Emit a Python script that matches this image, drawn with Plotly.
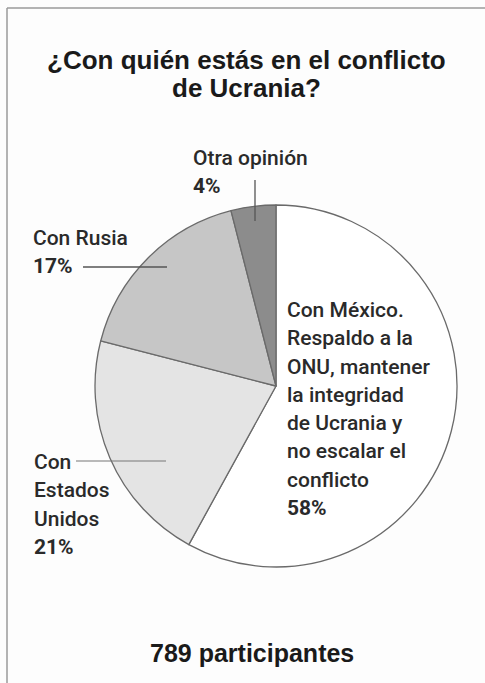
import plotly.graph_objects as go

# ---- data ----
categories = [
    "Con México. Respaldo a la ONU, mantener la integridad de Ucrania y no escalar el conflicto",
    "Con Estados Unidos",
    "Con Rusia",
    "Otra opinión",
]
values = [58, 21, 17, 4]
slice_colors = ["#ffffff", "#e4e4e4", "#c6c6c6", "#8c8c8c"]

title_lines = ["¿Con quién estás en el conflicto", "de Ucrania?"]
footer_text = "789 participantes"

# label text lines (name lines, then percentage)
label_lines = [
    ["Con México.", "Respaldo a la", "ONU, mantener", "la integridad",
     "de Ucrania y", "no escalar el", "conflicto"],
    ["Con", "Estados", "Unidos"],
    ["Con Rusia"],
    ["Otra opinión"],
]
# label anchor (left x px, first-line center y px)
label_pos = [(285, 310), (32, 462), (31, 238), (191, 158)]
line_step = 28.3

W, H = 485, 683
LFONT = "Roboto, sans-serif"
TFONT = "Liberation Sans, Arial, sans-serif"
TXT = "#2a2a2a"


def px(x):
    return x / W


def py(y):
    return 1 - y / H


fig = go.Figure()
cx, cy, r = 276, 386, 181
fig.add_trace(go.Pie(
    labels=categories,
    values=values,
    sort=False,
    direction="clockwise",
    rotation=0,
    marker=dict(colors=slice_colors, line=dict(color="#6a6a6a", width=1.3)),
    textinfo="none",
    hoverinfo="label+percent",
    showlegend=False,
    domain=dict(x=[px(cx - r), px(cx + r)], y=[py(cy + r), py(cy - r)]),
))

annotations = []
# title
for i, t in enumerate(title_lines):
    annotations.append(dict(
        text=f"<b>{t}</b>", x=px(247), y=py(60 + i * 28), xref="paper", yref="paper",
        showarrow=False, xanchor="center", yanchor="middle",
        font=dict(family=TFONT, size=26, color="#1a1a1a")))

# slice labels
for lines, v, (lx, ly) in zip(label_lines, values, label_pos):
    allines = lines + [f"<b>{v}%</b>"]
    for j, t in enumerate(allines):
        annotations.append(dict(
            text=t, x=px(lx), y=py(ly + j * line_step), xref="paper", yref="paper",
            showarrow=False, xanchor="left", yanchor="middle",
            font=dict(family=LFONT, size=21, color=TXT, weight=500)))

# footer
annotations.append(dict(
    text=f"<b>{footer_text}</b>", x=px(252), y=py(653), xref="paper", yref="paper",
    showarrow=False, xanchor="center", yanchor="middle",
    font=dict(family=TFONT, size=25, color="#1a1a1a")))

shapes = [
    # frame
    dict(type="line", xref="paper", yref="paper", x0=px(7), x1=1, y0=py(8), y1=py(8),
         line=dict(color="#9a9a9a", width=1.5)),
    dict(type="line", xref="paper", yref="paper", x0=px(7), x1=px(7), y0=py(8), y1=0,
         line=dict(color="#9a9a9a", width=1.5)),
    # leader lines
    dict(type="line", xref="paper", yref="paper", x0=px(255), x1=px(255), y0=py(180), y1=py(221),
         line=dict(color="#555555", width=1.3)),
    dict(type="line", xref="paper", yref="paper", x0=px(83), x1=px(167), y0=py(267), y1=py(267),
         line=dict(color="#555555", width=1.3)),
    dict(type="line", xref="paper", yref="paper", x0=px(76), x1=px(166), y0=py(461), y1=py(461),
         line=dict(color="#777777", width=1.2)),
]

fig.update_layout(
    width=W, height=H,
    margin=dict(l=0, r=0, t=0, b=0),
    paper_bgcolor="#fdfdfd",
    plot_bgcolor="#fdfdfd",
    annotations=annotations,
    shapes=shapes,
)

fig.write_html("out.html", config={"displayModeBar": False},
               post_script="document.body.style.margin='0';document.body.style.padding='0';")
